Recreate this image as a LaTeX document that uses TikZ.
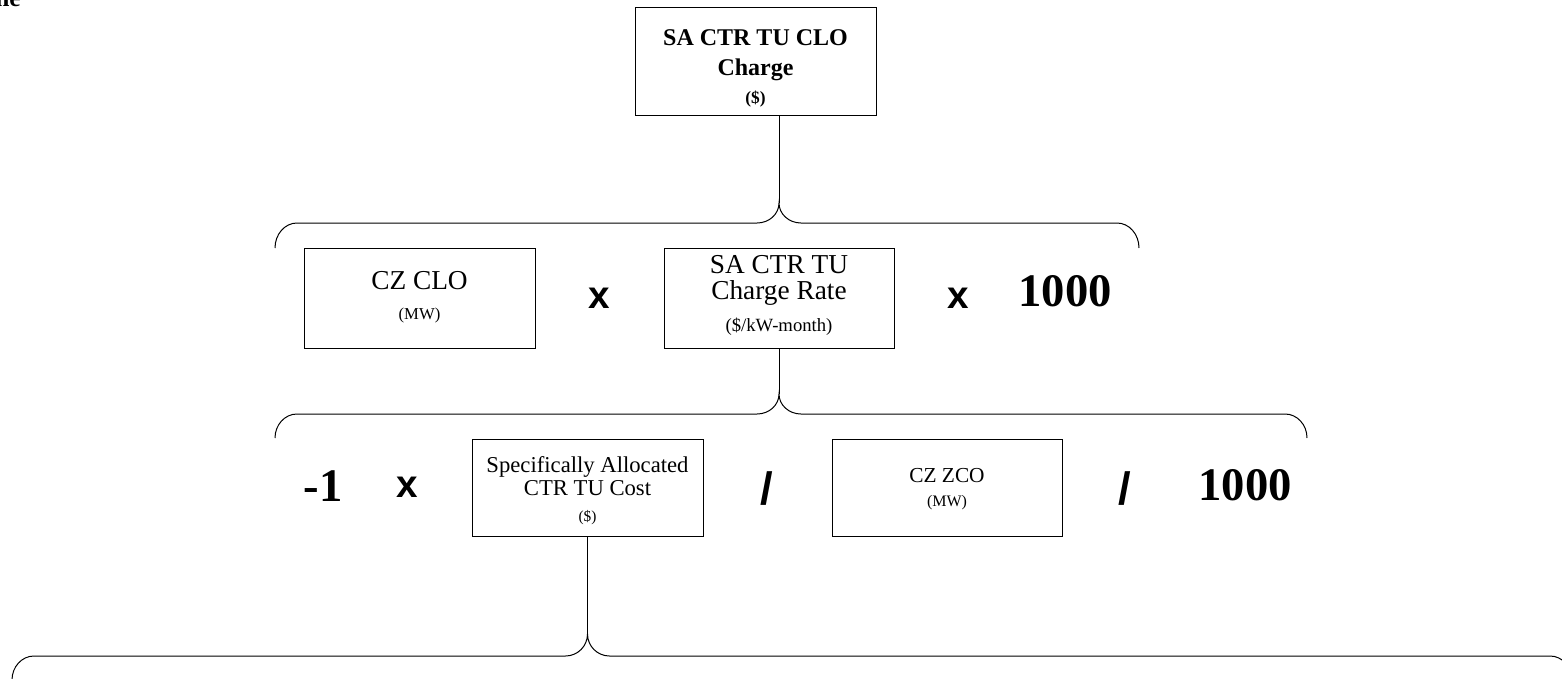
\documentclass[tikz,border=0pt]{standalone}
\usepackage{fontspec}
\setmainfont{Liberation Serif}
\newfontfamily\sansb{Liberation Sans}
% brace: #1 left x, #2 tip x, #3 right x, #4 bar y, #5 end drop, #6 tip rise, #7 corner radius
\newcommand\mybrace[7]{%
  \draw[conn] (#1,#4+#5) .. controls (#1,#4+0.448*#5) and (#1+0.448*#7,#4) .. (#1+#7,#4)
    -- (#2-#7,#4) .. controls (#2-0.448*#7,#4) and (#2,#4-0.448*#6) .. (#2,#4-#6)
    .. controls (#2,#4-0.448*#6) and (#2+0.448*#7,#4) .. (#2+#7,#4)
    -- (#3-#7,#4) .. controls (#3-0.448*#7,#4) and (#3,#4+0.448*#5) .. (#3,#4+#5);}
\begin{document}
\begin{tikzpicture}[x=0.75pt,y=-0.75pt,
  box/.style={draw, line width=0.75pt, inner sep=0pt},
  conn/.style={line width=0.75pt},
  txt/.style={anchor=base, inner sep=0pt},
  op/.style={inner sep=0pt, font=\sansb\bfseries\fontsize{29}{29}\selectfont},
  slash/.style={inner sep=0pt, font=\sansb\bfseries\fontsize{34}{34}\selectfont},
  num/.style={inner sep=0pt, font=\bfseries\fontsize{35}{35}\selectfont}]
\useasboundingbox (0,0) rectangle (1562,678);

% cut-off text at top left
\node[anchor=base east, inner sep=0pt, font=\bfseries\fontsize{19}{19}\selectfont] (cut) at (21,7) {ne};

% top box
\node[box, minimum width=180.75pt, minimum height=81pt] (top) at (755.5,61) {};
\node[txt, font=\bfseries\fontsize{18}{18}\selectfont] (topa) at (755.5,45) {SA CTR TU CLO};
\node[txt, font=\bfseries\fontsize{18}{18}\selectfont] (topb) at (755.5,75) {Charge};
\node[txt, font=\bfseries\fontsize{13}{13}\selectfont] (topc) at (755.5,103) {(\$)};

% brace 1
\mybrace{275}{779}{1139}{223}{25}{20}{22}
\coordinate (b1tip) at (779,203);
\draw[conn] (top.south -| b1tip) -- (b1tip);

% row 2
\node[box, minimum width=173.25pt, minimum height=75pt] (clo) at (419.5,298) {};
\node[txt, font=\fontsize{20.5}{20.5}\selectfont] (cloa) at (419.5,289) {CZ CLO};
\node[txt, font=\fontsize{12.5}{12.5}\selectfont] (clob) at (419.5,319) {(MW)};

\node[op] (x1) at (599,298) {x};

\node[box, minimum width=172.5pt, minimum height=75pt] (rate) at (779,298) {};
\node[txt, font=\fontsize{20.5}{20.5}\selectfont] (ratea) at (779,273) {SA CTR TU};
\node[txt, font=\fontsize{20.5}{20.5}\selectfont] (rateb) at (779,299) {Charge Rate};
\node[txt, font=\fontsize{14}{14}\selectfont] (ratec) at (779,331) {(\$/kW-month)};

\node[op] (x2) at (958,298) {x};
\node[num] (k1) at (1065,291) {1000};

% brace 2
\mybrace{275}{779}{1307}{414}{24}{20}{22}
\coordinate (b2tip) at (779,394);
\draw[conn] (rate.south) -- (b2tip);

% row 3
\node[num] (m1) at (323,486) {-1};
\node[op] (x3) at (407,487) {x};

\node[box, minimum width=173.25pt, minimum height=72.75pt] (sac) at (587.5,487.5) {};
\node[txt, font=\fontsize{17}{17}\selectfont] (saca) at (587.5,472) {Specifically Allocated};
\node[txt, font=\fontsize{17}{17}\selectfont] (sacb) at (587.5,495) {CTR TU Cost};
\node[txt, font=\fontsize{11.5}{11.5}\selectfont] (sacc) at (587.5,521) {(\$)};

\node[slash] (d1) at (767,489) {/};

\node[box, minimum width=172.5pt, minimum height=72.75pt] (zco) at (947,487.5) {};
\node[txt, font=\fontsize{16}{16}\selectfont] (zcoa) at (947,482) {CZ ZCO};
\node[txt, font=\fontsize{12}{12}\selectfont] (zcob) at (947,506) {(MW)};

\node[slash] (d2) at (1125,489) {/};
\node[num] (k2) at (1245,485) {1000};

% brace 3
\mybrace{12}{587.5}{1572}{656}{24}{22}{22}
\coordinate (b3tip) at (587.5,634);
\draw[conn] (sac.south) -- (b3tip);
\end{tikzpicture}
\end{document}
